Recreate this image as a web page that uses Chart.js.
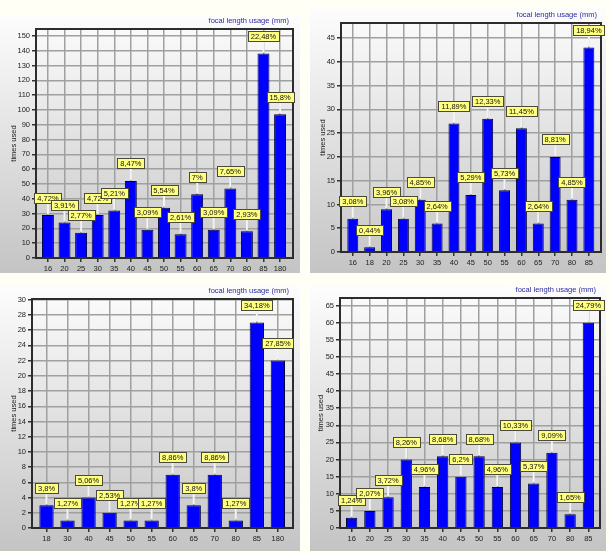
<!DOCTYPE html>
<html>
<head>
<meta charset="utf-8">
<script src="https://cdn.jsdelivr.net/npm/chart.js@4.4.1/dist/chart.umd.min.js"></script>
<style>
    body { margin: 0; background: #fffff6; width: 609px; height: 553px; overflow: hidden; position: relative; }
    .panel { position: absolute; background: linear-gradient(#fdfdfd, #c4c4c4); }
    canvas { display: block; }
</style>
</head>
<body>
<div class="panel" style="left:0;top:15px;width:300px;height:258px"><canvas id="chartTL" width="300" height="258"></canvas></div>
<div class="panel" style="left:310px;top:8px;width:296px;height:265px"><canvas id="chartTR" width="296" height="265"></canvas></div>
<div class="panel" style="left:0;top:285px;width:300px;height:266px"><canvas id="chartBL" width="300" height="266"></canvas></div>
<div class="panel" style="left:310px;top:285px;width:296px;height:266px"><canvas id="chartBR" width="296" height="266"></canvas></div>
<script>
// data
const tlLabels = ["16", "20", "25", "30", "35", "40", "45", "50", "55", "60", "65", "70", "80", "85", "180"]
const tlCounts = [29, 24, 17, 29, 32, 52, 19, 34, 16, 43, 19, 47, 18, 138, 97]
const tlPercent = ["4,72%", "3,91%", "2,77%", "4,72%", "5,21%", "8,47%", "3,09%", "5,54%", "2,61%", "7%", "3,09%", "7,65%", "2,93%", "22,48%", "15,8%"]

const trLabels = ["16", "18", "20", "25", "30", "35", "40", "45", "50", "55", "60", "65", "70", "80", "85"]
const trCounts = [7, 1, 9, 7, 11, 6, 27, 12, 28, 13, 26, 6, 20, 11, 43]
const trPercent = ["3,08%", "0,44%", "3,96%", "3,08%", "4,85%", "2,64%", "11,89%", "5,29%", "12,33%", "5,73%", "11,45%", "2,64%", "8,81%", "4,85%", "18,94%"]

const blLabels = ["18", "30", "40", "45", "50", "55", "60", "65", "70", "80", "85", "180"]
const blCounts = [3, 1, 4, 2, 1, 1, 7, 3, 7, 1, 27, 22]
const blPercent = ["3,8%", "1,27%", "5,06%", "2,53%", "1,27%", "1,27%", "8,86%", "3,8%", "8,86%", "1,27%", "34,18%", "27,85%"]

const brLabels = ["16", "20", "25", "30", "35", "40", "45", "50", "55", "60", "65", "70", "80", "85"]
const brCounts = [3, 5, 9, 20, 12, 21, 15, 21, 12, 25, 13, 22, 4, 60]
const brPercent = ["1,24%", "2,07%", "3,72%", "8,26%", "4,96%", "8,68%", "6,2%", "8,68%", "4,96%", "10,33%", "5,37%", "9,09%", "1,65%", "24,79%"]

const tickFont = { family: "'Liberation Sans', Arial, sans-serif", size: 7.5 }
const fontStr = "7.5px 'Liberation Sans', Arial, sans-serif"

function createGraph(id, labels, counts, percent, opt) {
    const decor = {
        id: 'decor',
        afterDatasetsDraw(chart) {
            const { ctx, chartArea: a } = chart
            const bars = chart.getDatasetMeta(0).data
            ctx.save()
            // plot frame
            ctx.strokeStyle = '#2c2c2c'
            ctx.lineWidth = 2
            ctx.strokeRect(a.left, a.top, a.right - a.left, a.bottom - a.top)
            ctx.font = fontStr
            // connectors first
            ctx.strokeStyle = '#f4f4f4'
            ctx.lineWidth = 2
            for (let i = 0; i < bars.length; i++) {
                const b = bars[i]
                ctx.beginPath()
                ctx.moveTo(b.x, b.y - 17.5 + 5)
                ctx.lineTo(b.x, b.y - 1)
                ctx.stroke()
            }
            ctx.textAlign = 'center'
            ctx.textBaseline = 'middle'
            for (let i = 0; i < bars.length; i++) {
                const b = bars[i]
                const cy = b.y - 17.5
                const w = Math.round(ctx.measureText(percent[i]).width + 6)
                const x0 = Math.round(b.x - w / 2) + 0.5
                const y0 = Math.round(cy - 5) + 0.5
                ctx.fillStyle = '#ffff80'
                ctx.fillRect(x0, y0, w, 10)
                ctx.strokeStyle = '#4a4a3a'
                ctx.lineWidth = 1
                ctx.strokeRect(x0, y0, w, 10)
                ctx.fillStyle = '#111'
                ctx.fillText(percent[i], b.x, y0 + 5.5)
            }
            ctx.restore()
        },
        afterDraw(chart) {
            const { ctx, chartArea: a } = chart
            ctx.save()
            ctx.font = fontStr
            ctx.fillStyle = '#2b2ba0'
            ctx.textAlign = 'right'
            ctx.textBaseline = 'middle'
            ctx.fillText("focal length usage (mm)", a.right - 4, a.top - 8)
            ctx.fillStyle = '#222'
            ctx.textAlign = 'center'
            ctx.translate(opt.titleX, (a.top + a.bottom) / 2)
            ctx.rotate(-Math.PI / 2)
            ctx.fillText("times used", 0, 0)
            ctx.restore()
        }
    }
    const config = {
        type: "bar",
        data: {
            datasets: [{
                data: counts.map((v, i) => ({ x: i, y: v })),
                backgroundColor: '#0000ff',
                borderColor: '#000040',
                borderWidth: 1,
                barPercentage: opt.bar,
                categoryPercentage: 1
            }]
        },
        options: {
            responsive: false,
            animation: false,
            devicePixelRatio: 1,
            layout: { padding: { top: opt.padTop, right: opt.padRight, left: 0, bottom: 0 } },
            plugins: {
                legend: { display: false },
                tooltip: { enabled: false }
            },
            scales: {
                x: {
                    type: 'linear',
                    min: -opt.padL,
                    max: labels.length - 1 + opt.padR,
                    offset: false,
                    afterBuildTicks: s => { s.ticks = labels.map((c, i) => ({ value: i })) },
                    afterFit: s => { s.height = opt.xH },
                    grid: { color: '#a0a0a0', lineWidth: 1.5, offset: false, tickLength: 4, tickColor: '#333' },
                    border: { display: false },
                    ticks: { callback: v => labels[v], font: tickFont, color: '#222', padding: 2, maxRotation: 0, autoSkip: false }
                },
                y: {
                    min: 0,
                    max: opt.max,
                    afterFit: s => { s.width = opt.yW },
                    grid: { color: '#a0a0a0', lineWidth: 1.5, tickLength: 4, tickColor: '#333' },
                    border: { display: false },
                    ticks: { stepSize: opt.step, includeBounds: false, font: tickFont, color: '#222', padding: 2 }
                }
            }
        },
        plugins: [decor]
    }
    new Chart(document.getElementById(id), config)
}

createGraph("chartTL", tlLabels, tlCounts, tlPercent,
    { max: 154.6, step: 10, padTop: 14, padRight: 7, yW: 36, xH: 15, padL: 0.72, padR: 0.78, bar: 0.72, titleX: 14 })
createGraph("chartTR", trLabels, trCounts, trPercent,
    { max: 48.15, step: 5, padTop: 15, padRight: 5, yW: 31, xH: 21, padL: 0.7, padR: 0.72, bar: 0.65, titleX: 13 })
createGraph("chartBL", blLabels, blCounts, blPercent,
    { max: 30.1, step: 2, padTop: 14, padRight: 7, yW: 32, xH: 23, padL: 0.69, padR: 0.72, bar: 0.68, titleX: 14 })
createGraph("chartBR", brLabels, brCounts, brPercent,
    { max: 67.2, step: 5, padTop: 13, padRight: 6, yW: 30, xH: 23, padL: 0.64, padR: 0.64, bar: 0.62, titleX: 11 })
</script>
</body>
</html>
